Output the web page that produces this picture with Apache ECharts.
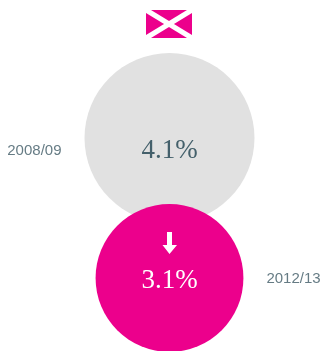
<!DOCTYPE html>
<html>
<head>
<meta charset="utf-8">
<style>html,body{margin:0;padding:0;background:#fff}#c{width:321px;height:351px}</style>
<script src="https://cdn.jsdelivr.net/npm/echarts@6/dist/echarts.min.js"></script>
</head>
<body>
<div id="c"></div>
<script>
const periods = ['2008/09', '2012/13'];
const rates = [4.1, 3.1];
const circleColors = ['#e1e1e1', '#ec008c'];
const valueColors = ['#44606b', '#ffffff'];
const valueOffsets = [[0, 13], [0, 3]];
const yearOffsets = [[0, 13], [0, 1]];
const yearSides = ['left', 'right'];
const sizeFor = v => Math.sqrt(v) * 83.96;
const pink = '#ec008c';

const chart = echarts.init(document.getElementById('c'), null, {renderer: 'canvas'});
chart.setOption({
  animation: false,
  backgroundColor: '#fff',
  grid: {left: 18, width: 303, top: 68, height: 280},
  xAxis: {type: 'value', min: 0, max: 1, show: false},
  yAxis: {type: 'category', inverse: true, data: periods, show: false, boundaryGap: true},
  series: [
    {
      name: 'rate', type: 'scatter', silent: true, z: 2,
      data: rates.map((v, i) => ({
        value: [0.5, periods[i]],
        rate: v,
        symbolSize: sizeFor(v),
        itemStyle: {color: circleColors[i], opacity: 1},
        label: {
          show: true, position: 'inside', offset: valueOffsets[i],
          formatter: v.toFixed(1) + '%',
          color: valueColors[i],
          fontFamily: 'Liberation Serif', fontSize: 27
        }
      }))
    },
    {
      name: 'period', type: 'scatter', silent: true, z: 1,
      data: rates.map((v, i) => ({
        value: [0.5, periods[i]],
        symbolSize: sizeFor(v),
        itemStyle: {color: 'rgba(0,0,0,0)'},
        label: {
          show: true, position: yearSides[i], distance: 23, offset: yearOffsets[i],
          formatter: periods[i],
          color: '#3f5a65',
          fontFamily: 'Liberation Sans', fontSize: 15
        }
      }))
    }
  ],
  graphic: [
    {type: 'rect', z: 10, shape: {x: 146, y: 10, width: 46, height: 28}, style: {fill: pink}},
    {type: 'polygon', z: 11, shape: {points: [[146,10],[151,10],[192,35],[192,38],[187,38],[146,13]]}, style: {fill: '#fff'}},
    {type: 'polygon', z: 11, shape: {points: [[192,10],[187,10],[146,35],[146,38],[151,38],[192,13]]}, style: {fill: '#fff'}},
    {type: 'polygon', z: 12, shape: {points: [[167,232],[172,232],[172,245],[177,245],[169.5,254],[162.5,245],[167,245]]}, style: {fill: '#fff'}}
  ]
});
</script>
</body>
</html>
